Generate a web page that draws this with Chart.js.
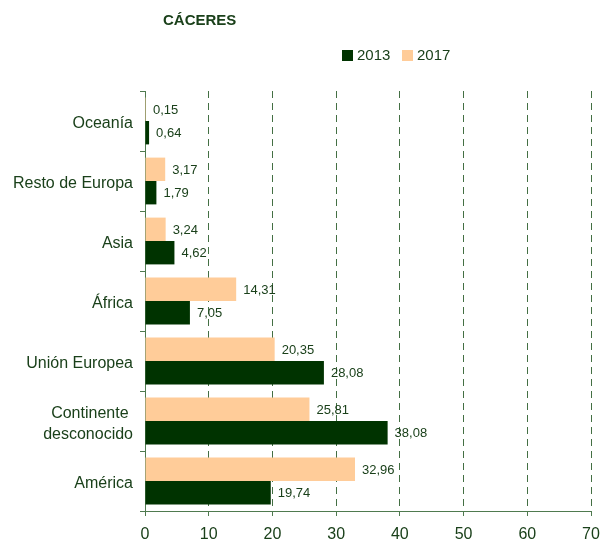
<!DOCTYPE html>
<html>
<head>
<meta charset="utf-8">
<script src="https://cdn.jsdelivr.net/npm/chart.js@4.4.3/dist/chart.umd.min.js"></script>
<style>
  html, body { margin: 0; padding: 0; background: #fff; }
</style>
</head>
<body>
<canvas id="chart" width="600" height="543"></canvas>
<script>
// chart data
const chartTitle = "CÁCERES";
const categories = ["Oceanía", "Resto de Europa", "Asia", "África", "Unión Europea",
  ["Continente\u00a0", "desconocido"], "América"];
const seriesNames = ["2013", "2017"];
const values2013 = [0.64, 1.79, 4.62, 7.05, 28.08, 38.08, 19.74];
const values2017 = [0.15, 3.17, 3.24, 14.31, 20.35, 25.81, 32.96];
const xMin = 0, xMax = 70, xStep = 10;

const FONT = "'Liberation Sans', Arial, sans-serif";
const TEXT = "#1a401a";
const GRID = "#436f43";
const AXIS = "#4f7a4f";
const C2013 = "#003300";
const C2017 = "#FFCC99";

function fmt(v) {
  return v.toFixed(2).replace(".", ",");
}

// value labels right of each bar
const barLabels = {
  id: "barLabels",
  afterDatasetsDraw(chart) {
    const ctx = chart.ctx;
    ctx.save();
    ctx.font = "13px " + FONT;
    ctx.fillStyle = TEXT;
    ctx.textAlign = "left";
    ctx.textBaseline = "middle";
    chart.data.datasets.forEach((ds, i) => {
      chart.getDatasetMeta(i).data.forEach((bar, j) => {
        ctx.fillText(fmt(ds.data[j]), bar.x + 7, bar.y + 1);
      });
    });
    ctx.restore();
  }
};

// title + legend drawn by hand to match the original placement
const header = {
  id: "header",
  afterDraw(chart) {
    const ctx = chart.ctx;
    ctx.save();
    ctx.fillStyle = TEXT;
    ctx.font = "bold 15px " + FONT;
    ctx.textBaseline = "middle";
    ctx.textAlign = "left";
    ctx.fillText(chartTitle, 163, 21);

    ctx.font = "15px " + FONT;
    const items = [
      { text: seriesNames[0], color: C2013, x: 342 },
      { text: seriesNames[1], color: C2017, x: 402 }
    ];
    items.forEach(it => {
      ctx.fillStyle = it.color;
      ctx.fillRect(it.x, 50, 11, 11);
      ctx.fillStyle = TEXT;
      ctx.fillText(it.text, it.x + 15, 56);
    });
    ctx.restore();
  }
};

new Chart(document.getElementById("chart"), {
  type: "bar",
  data: {
    labels: categories,
    datasets: [
      { label: seriesNames[1], data: values2017, backgroundColor: C2017 },
      { label: seriesNames[0], data: values2013, backgroundColor: C2013 }
    ]
  },
  options: {
    indexAxis: "y",
    responsive: false,
    animation: false,
    categoryPercentage: 0.78,
    barPercentage: 1.0,
    layout: { padding: { top: 91, right: 0, bottom: 0, left: 0 } },
    plugins: {
      legend: { display: false },
      title: { display: false },
      tooltip: { enabled: false }
    },
    scales: {
      x: {
        min: xMin,
        max: xMax,
        afterFit(scale) {
          scale.height = 32;
          scale.paddingRight = 9;
        },
        ticks: {
          stepSize: xStep,
          color: TEXT,
          padding: 9,
          font: { family: FONT, size: 16 }
        },
        grid: {
          color: GRID,
          lineWidth: 1,
          tickLength: 5,
          tickColor: AXIS,
          tickBorderDash: []
        },
        border: { color: AXIS, width: 1, dash: [7, 5] }
      },
      y: {
        afterFit(scale) { scale.width = 145; },
        ticks: {
          color: TEXT,
          padding: 7,
          labelOffset: 3,
          font: { family: FONT, size: 16, lineHeight: 1.3 }
        },
        grid: {
          drawOnChartArea: false,
          offset: true,
          tickLength: 5,
          tickColor: AXIS
        },
        border: { color: AXIS, width: 1 }
      }
    }
  },
  plugins: [barLabels, header]
});
</script>
</body>
</html>
